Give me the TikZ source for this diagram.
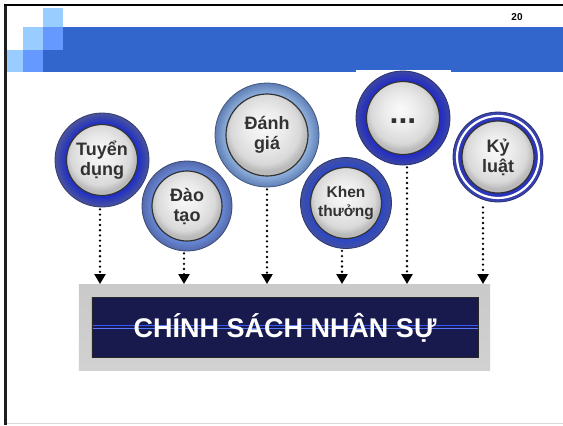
\documentclass[tikz,border=0pt]{standalone}
\usepackage{fontspec}
\setmainfont{Liberation Sans}
\usetikzlibrary{arrows.meta}

% slide colours
\definecolor{bandblue}{RGB}{51,102,204}
\definecolor{sqlight}{RGB}{153,204,255}
\definecolor{sqmid}{RGB}{102,153,255}
\definecolor{labelgray}{RGB}{50,50,50}
\definecolor{navy}{RGB}{24,26,78}
\definecolor{navymid}{RGB}{46,52,158}
\definecolor{glow}{RGB}{50,90,255}

% ring colours of the bubbles (inner bright edge / outer edge)
\definecolor{tuyenin}{RGB}{30,45,200}   \definecolor{tuyenout}{RGB}{75,85,155}
\definecolor{daotaoin}{RGB}{105,140,220} \definecolor{daotaoout}{RGB}{85,105,170}
\definecolor{danhgiain}{RGB}{150,185,228}\definecolor{danhgiaout}{RGB}{95,125,180}
\definecolor{khenin}{RGB}{40,70,205}    \definecolor{khenout}{RGB}{65,80,160}
\definecolor{moreein}{RGB}{30,40,205}   \definecolor{moreeout}{RGB}{60,70,160}
\definecolor{kyluatin}{RGB}{35,45,195}  \definecolor{kyluatout}{RGB}{60,70,170}

\colorlet{ringin}{tuyenin}
\colorlet{ringout}{tuyenout}

\pgfdeclareradialshading[ringin,ringout]{ringshade}{\pgfpoint{0bp}{0bp}}{%
  color(0bp)=(ringin); color(19bp)=(ringin); color(25bp)=(ringout); color(50bp)=(ringout)}
\pgfdeclareradialshading{diskshade}{\pgfpoint{-2bp}{6bp}}{%
  color(0bp)=(black!2); color(12bp)=(black!8); color(21bp)=(black!15);
  color(25bp)=(black!27); color(50bp)=(black!27)}

\tikzset{
  ring/.style={circle, inner sep=0pt, shade, shading=ringshade,
    draw=ringout!70!black, line width=0.8bp},
  disk/.style={circle, inner sep=0pt, shade, shading=diskshade,
    draw=black!80, line width=1.2bp, align=center, text=labelgray,
    font=\fontsize{18bp}{20bp}\selectfont\bfseries},
  dotarrow/.style={line width=2.6bp, dash pattern=on 0bp off 5.2bp, line cap=round,
    -{Triangle[width=11bp,length=10bp]}, shorten <=2bp},
  outerbox/.style={rectangle, inner sep=0pt, top color=black!21,
    middle color=black!4, bottom color=black!18},
  innerbox/.style={rectangle, inner sep=0pt, top color=navy,
    middle color=navymid, bottom color=navy, draw=black!85, line width=0.8bp,
    path picture={
      \draw[glow, line width=0.9bp]
        ([yshift=1.8bp]path picture bounding box.west) -- ([yshift=1.8bp]path picture bounding box.east);
      \draw[glow!80!white, line width=0.7bp]
        ([yshift=-1.6bp]path picture bounding box.west) -- ([yshift=-1.6bp]path picture bounding box.east);
    }},
}

\begin{document}
\begin{tikzpicture}[x=1bp, y=-1bp]
\useasboundingbox (0,0) rectangle (563,425);
\fill[white] (0,0) rectangle (563,425);

% slide frame
\fill[black!88] (4,4) rectangle (7,425);
\draw[black, line width=2bp] (4,5) -- (563,5);
\draw[black!15, line width=1bp] (7,423.5) -- (563,423.5);

% title band with its stepped squares
\fill[sqlight] (43,8) rectangle (63,27);
\fill[sqlight] (22.5,27) rectangle (43,50);
\fill[sqmid] (43,27) rectangle (63,50);
\fill[sqlight] (7,50) rectangle (22.5,72);
\fill[sqmid] (22.5,50) rectangle (43,72);
\fill[bandblue] (63,27) rectangle (563,72);
\fill[bandblue] (43,50) rectangle (63,72);
\fill[white] (356,70) rectangle (451,72.5);

\node[font=\fontsize{10bp}{12bp}\selectfont\bfseries] (pagenum) at (517,17) {20};

% bubbles
\colorlet{ringin}{tuyenin}\colorlet{ringout}{tuyenout}
\node[ring, minimum size=94bp] (tuyen) at (102,160) {};
\node[disk, minimum size=71bp] (tuyentxt) at (tuyen) {Tuyển\\dụng};

\colorlet{ringin}{daotaoin}\colorlet{ringout}{daotaoout}
\node[ring, minimum size=90bp] (daotao) at (187,206) {};
\node[disk, minimum size=70bp] (daotaotxt) at (daotao) {Đào\\tạo};

\colorlet{ringin}{danhgiain}\colorlet{ringout}{danhgiaout}
\node[ring, minimum size=104bp] (danhgia) at (267,135) {};
\node[disk, minimum size=82bp] (danhgiatxt) at (danhgia) {Đánh\\giá};

\colorlet{ringin}{khenin}\colorlet{ringout}{khenout}
\node[ring, minimum size=91bp] (khen) at (346,203) {};
\node[disk, minimum size=71bp, font=\fontsize{15.5bp}{19bp}\selectfont\bfseries]
  (khentxt) at (khen) {Khen\\thưởng};

\colorlet{ringin}{moreein}\colorlet{ringout}{moreeout}
\node[ring, minimum size=94bp] (moree) at (403,118) {};
\node[disk, minimum size=73bp] (mooredisk) at (moree) {};
\node[font=\fontsize{32bp}{32bp}\selectfont\bfseries, text=labelgray, anchor=base]
  (mooretxt) at (403,123) {...};

\colorlet{ringin}{kyluatin}\colorlet{ringout}{kyluatout}
\node[ring, minimum size=90bp] (kyluat) at (498,157) {};
\node[circle, draw=white, line width=2.2bp, minimum size=82bp, inner sep=0pt] (kyluatgap) at (kyluat) {};
\node[disk, minimum size=72bp] (kyluattxt) at (kyluat) {Kỷ\\luật};

% policy bar
\node[outerbox, minimum width=411bp, minimum height=86bp] (frame) at (284.5,327) {};
\node[innerbox, minimum width=386bp, minimum height=60bp] (policy) at (285,327) {};
\node[anchor=base, text=white, font=\fontsize{27bp}{30bp}\selectfont\bfseries]
  (policylabel) at (285,337) {CHÍNH SÁCH NHÂN SỰ};

% arrow ends on the top edge of the bar
\coordinate (e1) at (100,284);
\coordinate (e2) at (184,284);
\coordinate (e3) at (267,284);
\coordinate (e4) at (342,284);
\coordinate (e5) at (407,284);
\coordinate (e6) at (483,284);

\draw[dotarrow] (tuyen.south -| e1) -- (e1);
\draw[dotarrow] (daotao.south -| e2) -- (e2);
\draw[dotarrow] (danhgia.south -| e3) -- (e3);
\draw[dotarrow] (khen.south -| e4) -- (e4);
\draw[dotarrow] (moree.south -| e5) -- (e5);
\draw[dotarrow] ([yshift=-3bp]kyluat.south -| e6) -- (e6);
\end{tikzpicture}
\end{document}
